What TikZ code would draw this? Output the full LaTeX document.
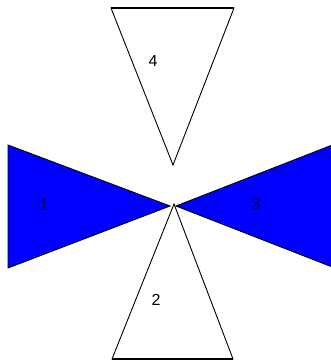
\documentclass[tikz,border=0pt]{standalone}
\usepackage{fontspec}
\setmainfont{Liberation Sans}
\tikzset{
  wing/.style={draw=black, line width=0.9pt, fill=white, line join=miter},
  bluewing/.style={wing, fill=blue},
  num/.style={font=\fontsize{16}{16}\selectfont, inner sep=0pt},
}
\begin{document}
\begin{tikzpicture}[x=1pt, y=-1pt]
    \useasboundingbox (0,0) rectangle (331,362);
    \clip (0,0) rectangle (331,362);
    % Centre point
    \coordinate (c) at (173,206);
    % Blue triangles (left and right)
    \draw[bluewing] (8,145) -- (8,268) -- (170,206) -- cycle;
    \draw[bluewing] (340,142) -- (340,270) -- (176,206) -- cycle;
    % White triangles (top and bottom)
    \draw[wing] (111,8) -- (234,8) -- (173,165) -- cycle;
    \draw[wing] (112,359) -- (233,359) -- (174,204) -- cycle;
    % Thicker top and base edges
    \draw[line width=1.8pt] (111,8) -- (234,8);
    \draw[line width=1.8pt] (112,359) -- (233,359);
    % Numbers
    \node[num] (n4) at (153,61) {4};
    \node[num, text=blue!30!black] (n1) at (44,205) {1};
    \node[num, text=blue!30!black] (n3) at (256,204) {3};
    \node[num] (n2) at (156,300) {2};
\end{tikzpicture}
\end{document}
